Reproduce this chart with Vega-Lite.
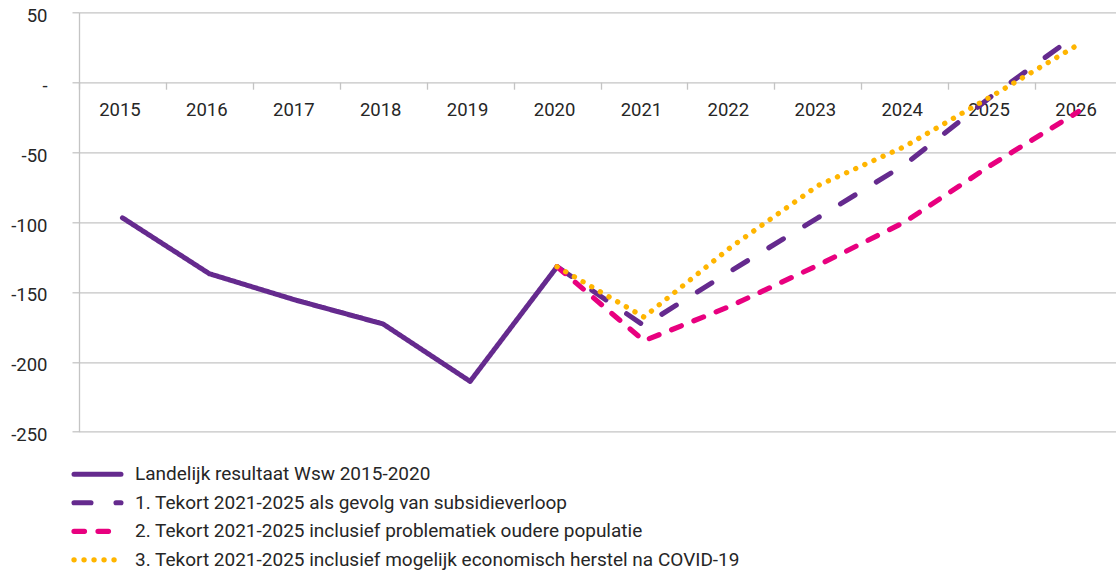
{
  "$schema": "https://vega.github.io/schema/vega-lite/v6.json",
  "width": 1037,
  "height": 419.4,
  "autosize": {"type": "none"},
  "padding": {"left": 79, "top": 12.3, "right": 0, "bottom": 139.3},
  "background": "white",
  "config": {"view": {"stroke": null}, "font": "Roboto"},
  "data": {
    "values": [
      {"year": "2015", "value": -97, "series": "Landelijk resultaat Wsw 2015-2020"},
      {"year": "2016", "value": -137, "series": "Landelijk resultaat Wsw 2015-2020"},
      {"year": "2017", "value": -156, "series": "Landelijk resultaat Wsw 2015-2020"},
      {"year": "2018", "value": -173, "series": "Landelijk resultaat Wsw 2015-2020"},
      {"year": "2019", "value": -214, "series": "Landelijk resultaat Wsw 2015-2020"},
      {"year": "2020", "value": -132, "series": "Landelijk resultaat Wsw 2015-2020"},
      {"year": "2020", "value": -132, "series": "1. Tekort 2021-2025 als gevolg van subsidieverloop"},
      {"year": "2021", "value": -174, "series": "1. Tekort 2021-2025 als gevolg van subsidieverloop"},
      {"year": "2022", "value": -135, "series": "1. Tekort 2021-2025 als gevolg van subsidieverloop"},
      {"year": "2023", "value": -97, "series": "1. Tekort 2021-2025 als gevolg van subsidieverloop"},
      {"year": "2024", "value": -59, "series": "1. Tekort 2021-2025 als gevolg van subsidieverloop"},
      {"year": "2025", "value": -10, "series": "1. Tekort 2021-2025 als gevolg van subsidieverloop"},
      {"year": "2026", "value": 35, "series": "1. Tekort 2021-2025 als gevolg van subsidieverloop"},
      {"year": "2020", "value": -132, "series": "2. Tekort 2021-2025 inclusief problematiek oudere populatie"},
      {"year": "2021", "value": -185, "series": "2. Tekort 2021-2025 inclusief problematiek oudere populatie"},
      {"year": "2022", "value": -160, "series": "2. Tekort 2021-2025 inclusief problematiek oudere populatie"},
      {"year": "2023", "value": -131, "series": "2. Tekort 2021-2025 inclusief problematiek oudere populatie"},
      {"year": "2024", "value": -100, "series": "2. Tekort 2021-2025 inclusief problematiek oudere populatie"},
      {"year": "2025", "value": -59, "series": "2. Tekort 2021-2025 inclusief problematiek oudere populatie"},
      {"year": "2026", "value": -21, "series": "2. Tekort 2021-2025 inclusief problematiek oudere populatie"},
      {"year": "2020", "value": -132, "series": "3. Tekort 2021-2025 inclusief mogelijk economisch herstel na COVID-19"},
      {"year": "2021", "value": -168, "series": "3. Tekort 2021-2025 inclusief mogelijk economisch herstel na COVID-19"},
      {"year": "2022", "value": -118, "series": "3. Tekort 2021-2025 inclusief mogelijk economisch herstel na COVID-19"},
      {"year": "2023", "value": -74, "series": "3. Tekort 2021-2025 inclusief mogelijk economisch herstel na COVID-19"},
      {"year": "2024", "value": -46, "series": "3. Tekort 2021-2025 inclusief mogelijk economisch herstel na COVID-19"},
      {"year": "2025", "value": -10, "series": "3. Tekort 2021-2025 inclusief mogelijk economisch herstel na COVID-19"},
      {"year": "2026", "value": 27, "series": "3. Tekort 2021-2025 inclusief mogelijk economisch herstel na COVID-19"}
    ]
  },
  "mark": {"type": "line", "strokeCap": "round", "strokeJoin": "round"},
  "encoding": {
    "x": {
      "field": "year",
      "type": "ordinal",
      "bandPosition": 0.5,
      "scale": {"type": "band", "range": [0, 1043], "paddingInner": 0, "paddingOuter": 0},
      "axis": {
        "title": null,
        "domain": false,
        "grid": false,
        "ticks": true,
        "tickBand": "extent",
        "tickSize": 7,
        "tickColor": "#c4c4c4",
        "tickWidth": 1.3,
        "labelFontSize": 18.5,
        "labelColor": "#262626",
        "labelPadding": 11,
        "labelOffset": -3,
        "labelAngle": 0,
        "offset": -349.5
      }
    },
    "y": {
      "field": "value",
      "type": "quantitative",
      "scale": {"domain": [-250, 50], "nice": false, "zero": false},
      "axis": {
        "title": null,
        "values": [-250, -200, -150, -100, -50, 0, 50],
        "grid": true,
        "gridColor": "#c4c4c4",
        "gridWidth": 1.3,
        "domain": true,
        "domainColor": "#c4c4c4",
        "domainWidth": 1.3,
        "ticks": true,
        "tickSize": 7,
        "tickColor": "#c4c4c4",
        "tickWidth": 1.3,
        "labelPadding": 25,
        "labelFontSize": 18.5,
        "labelColor": "#262626",
        "labelOffset": 3,
        "labelExpr": "datum.value == 0 ? '-' : (datum.value < 0 ? '-' + abs(datum.value) : '' + datum.value)"
      }
    },
    "color": {
      "field": "series",
      "type": "nominal",
      "scale": {
        "domain": [
          "Landelijk resultaat Wsw 2015-2020",
          "1. Tekort 2021-2025 als gevolg van subsidieverloop",
          "2. Tekort 2021-2025 inclusief problematiek oudere populatie",
          "3. Tekort 2021-2025 inclusief mogelijk economisch herstel na COVID-19"
        ],
        "range": ["#652a8e", "#652a8e", "#e8007f", "#ffb500"]
      },
      "legend": {
        "title": null,
        "orient": "none",
        "legendX": -8,
        "legendY": 452,
        "direction": "vertical",
        "symbolType": "stroke",
        "symbolSize": 2209,
        "symbolStrokeWidth": 4.5,
        "labelFontSize": 19,
        "labelColor": "#262626",
        "labelOffset": 11,
        "labelLimit": 900,
        "clipHeight": 20,
        "rowPadding": 8.5,
        "padding": 0,
        "encode": {
          "symbols": {
            "update": {
              "strokeCap": {"value": "round"},
              "strokeDash": {"signal": "indexOf(datum.value, '1.') == 0 ? [16, 16.5] : indexOf(datum.value, '2.') == 0 ? [9, 11.7] : indexOf(datum.value, '3.') == 0 ? [0.1, 9.5] : [1, 0]"}
            }
          }
        }
      }
    },
    "strokeDash": {
      "field": "series",
      "type": "nominal",
      "scale": {
        "domain": [
          "Landelijk resultaat Wsw 2015-2020",
          "1. Tekort 2021-2025 als gevolg van subsidieverloop",
          "2. Tekort 2021-2025 inclusief problematiek oudere populatie",
          "3. Tekort 2021-2025 inclusief mogelijk economisch herstel na COVID-19"
        ],
        "range": [[1, 0], [17, 25], [10.5, 13.5], [0.1, 9.9]]
      }
    },
    "strokeWidth": {
      "field": "series",
      "type": "nominal",
      "scale": {
        "domain": [
          "Landelijk resultaat Wsw 2015-2020",
          "1. Tekort 2021-2025 als gevolg van subsidieverloop",
          "2. Tekort 2021-2025 inclusief problematiek oudere populatie",
          "3. Tekort 2021-2025 inclusief mogelijk economisch herstel na COVID-19"
        ],
        "range": [5, 5.3, 4.6, 4.2]
      }
    }
  }
}
